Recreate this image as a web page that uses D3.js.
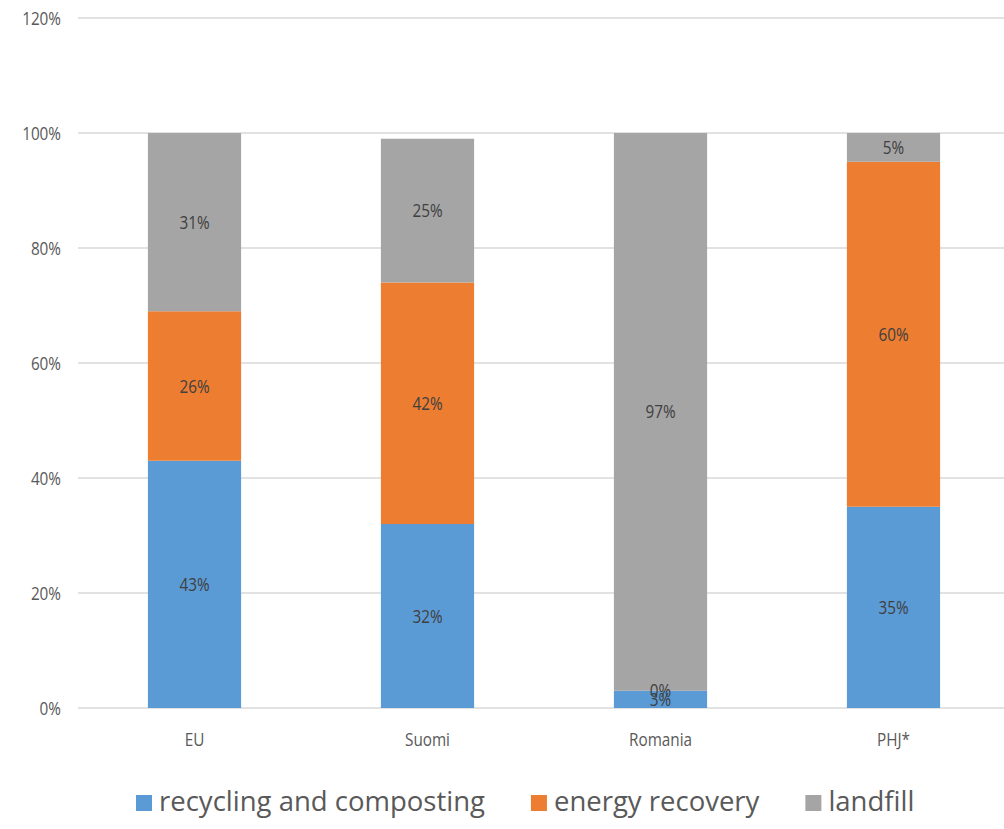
<!DOCTYPE html>
<html lang="en">
<head>
    <meta charset="UTF-8">
    <title>Waste treatment shares</title>
    <script src="https://d3js.org/d3.v7.min.js"></script>
    <style>
        body { margin: 0; background: #fff; }
        text { font-family: "Open Sans", sans-serif; }
    </style>
</head>
<body>
    <script>
    // data
    var categories = ["EU", "Suomi", "Romania", "PHJ*"];
    var seriesNames = ["recycling and composting", "energy recovery", "landfill"];
    var recycling = [43, 32, 3, 35];
    var energy = [26, 42, 0, 60];
    var landfill = [31, 25, 97, 5];
    var yTicks = [0, 20, 40, 60, 80, 100, 120];
    var colors = ["#5b9bd5", "#ed7d31", "#a5a5a5"];

    var width = 1004, height = 829;
    var svg = d3.select("body").append("svg")
        .attr("width", width)
        .attr("height", height);

    var x = d3.scaleBand()
        .domain(categories)
        .range([78, 1010])
        .paddingInner(0.6)
        .paddingOuter(0.3);

    var y = d3.scaleLinear()
        .domain([0, 120])
        .range([708, 18]);

    // gridlines
    svg.selectAll("line.grid")
        .data(yTicks)
        .enter()
        .append("line")
        .attr("x1", 78)
        .attr("x2", width)
        .attr("y1", function(d) { return y(d); })
        .attr("y2", function(d) { return y(d); })
        .attr("stroke", "#d9d9d9")
        .attr("stroke-width", 1.5);

    // y tick labels (narrow, like Calibri)
    svg.selectAll("text.ytick")
        .data(yTicks)
        .enter()
        .append("text")
        .attr("transform", function(d) { return "translate(61," + (y(d) + 6.5) + ") scale(0.85,1)"; })
        .attr("text-anchor", "end")
        .attr("font-size", 18)
        .attr("fill", "#595959")
        .text(function(d) { return d + "%"; });

    // stacked data
    var rows = categories.map(function(c, i) {
        return { cat: c, r: recycling[i], e: energy[i], l: landfill[i] };
    });
    var stack = d3.stack().keys(["r", "e", "l"]);
    var layers = stack(rows);

    var g = svg.selectAll("g.layer")
        .data(layers)
        .enter()
        .append("g")
        .attr("fill", function(d, i) { return colors[i]; });

    g.selectAll("rect")
        .data(function(d) { return d; })
        .enter()
        .append("rect")
        .attr("x", function(d) { return x(d.data.cat); })
        .attr("width", x.bandwidth())
        .attr("y", function(d) { return y(d[1]); })
        .attr("height", function(d) { return y(d[0]) - y(d[1]); });

    // value labels, centred in each segment
    layers.forEach(function(layer) {
        svg.selectAll(null)
            .data(layer)
            .enter()
            .append("text")
            .attr("transform", function(d) {
                var cx = x(d.data.cat) + x.bandwidth() / 2;
                var cy = y((d[0] + d[1]) / 2) + 6.5;
                return "translate(" + cx + "," + cy + ") scale(0.85,1)";
            })
            .attr("text-anchor", "middle")
            .attr("font-size", 18)
            .attr("fill", "#404040")
            .text(function(d) { return (d[1] - d[0]) + "%"; });
    });

    // category labels
    svg.selectAll("text.cat")
        .data(categories)
        .enter()
        .append("text")
        .attr("transform", function(d) { return "translate(" + (x(d) + x.bandwidth() / 2) + ",746) scale(0.85,1)"; })
        .attr("text-anchor", "middle")
        .attr("font-size", 18)
        .attr("fill", "#595959")
        .text(function(d) { return d; });

    // legend
    var legend = svg.append("g");
    var lx = 136;
    seriesNames.forEach(function(name, i) {
        legend.append("rect")
            .attr("x", lx)
            .attr("y", 795)
            .attr("width", 16)
            .attr("height", 16)
            .attr("fill", colors[i]);
        var t = legend.append("text")
            .attr("x", lx + 23)
            .attr("y", 811)
            .attr("font-size", 27.5)
            .attr("fill", "#595959")
            .text(name);
        lx += 23 + t.node().getComputedTextLength() + 46;
    });
    </script>
</body>
</html>
